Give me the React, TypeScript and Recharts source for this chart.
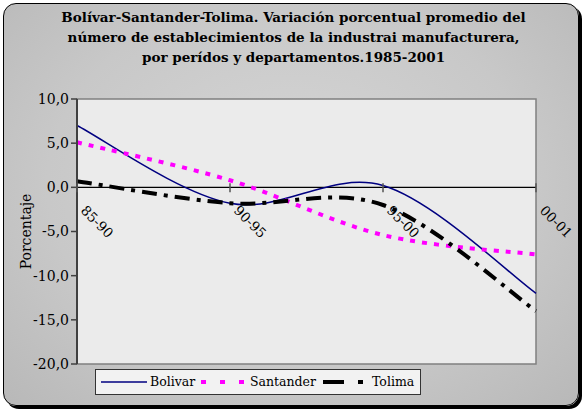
import { LineChart, Line, XAxis, YAxis, ReferenceLine, ReferenceArea, ReferenceDot } from 'recharts'

// Variación porcentual promedio por periodos y departamentos
const periodos = ['85-90', '90-95', '95-00', '00-01']
const bolivar = [7.0, -1.8, 0.2, -12.0]
const santander = [5.1, 0.8, -5.4, -7.6]
const tolima = [0.7, -1.8, -2.0, -14.0]
const yTicks = [-20, -15, -10, -5, 0, 5, 10]

const data = periodos.map((p, i) => ({
  p,
  Bolivar: bolivar[i],
  Santander: santander[i],
  Tolima: tolima[i],
}))

const serif = '"DejaVu Serif", serif'

const series = [
  { key: 'Bolivar', color: '#000080', width: 1.5, dash: undefined as string | undefined, legDash: undefined as string | undefined, lx: 5, tx: 54 },
  { key: 'Santander', color: '#FF00FF', width: 4, dash: '5 7', legDash: '5 14', lx: 105, tx: 154 },
  { key: 'Tolima', color: '#000000', width: 4, dash: '15 7 4 7', legDash: '21 14 5 14', lx: 227, tx: 276 },
]

// suavizado tipo Excel (Bezier con tangentes Catmull-Rom)
function smoothCurve(context: any) {
  let pts: [number, number][] = []
  return {
    areaStart() {},
    areaEnd() {},
    lineStart() { pts = [] },
    point(x: number, y: number) { pts.push([+x, +y]) },
    lineEnd() {
      if (!pts.length) return
      context.moveTo(pts[0][0], pts[0][1])
      for (let i = 0; i < pts.length - 1; i++) {
        const p0 = pts[i - 1] ?? pts[i]
        const p1 = pts[i]
        const p2 = pts[i + 1]
        const p3 = pts[i + 2] ?? pts[i + 1]
        context.bezierCurveTo(
          p1[0] + (p2[0] - p0[0]) / 6, p1[1] + (p2[1] - p0[1]) / 6,
          p2[0] - (p3[0] - p1[0]) / 6, p2[1] - (p3[1] - p1[1]) / 6,
          p2[0], p2[1],
        )
      }
    },
  }
}

function PeriodTick(props: any) {
  const { cx, cy, label } = props
  return (
    <g>
      <line x1={cx} x2={cx} y1={cy - 4} y2={cy + 5} stroke="#555" strokeWidth={1.5} />
      <text x={cx + 3} y={cy + 24} fontFamily={serif} fontSize={13.5} fill="#000"
        transform={`rotate(45 ${cx + 3} ${cy + 24})`} textAnchor="start">{label}</text>
    </g>
  )
}

function LegendBox() {
  return (
    <div style={{
      position: 'absolute', left: 95, top: 369, background: '#f2f2f2',
      border: '1px solid #333', height: 26, width: 326, boxSizing: 'border-box',
      fontFamily: serif, fontSize: 12.5,
    }}>
      {series.map((s) => (
        <div key={s.key}>
          <svg width={46} height={10} style={{ position: 'absolute', left: s.lx, top: 7 }}>
            <line x1={0} x2={46} y1={5} y2={5} stroke={s.color} strokeWidth={s.key === 'Bolivar' ? 1.5 : 4}
              strokeDasharray={s.legDash} />
          </svg>
          <span style={{ position: 'absolute', left: s.tx, top: 4, whiteSpace: 'nowrap' }}>{s.key}</span>
        </div>
      ))}
    </div>
  )
}

export default function App() {
  return (
    <div style={{ position: 'absolute', left: 0, top: 0, width: 587, height: 415 }}>
      <div style={{
        position: 'absolute', left: 3, top: 3, width: 574, height: 401, border: '1px solid #000',
        borderRadius: 13, boxShadow: '3px 3px 0 #000',
        background: 'radial-gradient(ellipse at 50% 45%, #d6d6d6 0%, #c8c8c8 60%, #b8b8b8 100%)',
      }} />
      <div style={{
        position: 'absolute', left: 0, top: 7, width: 587, textAlign: 'center', fontFamily: serif,
        fontWeight: 'bold', fontSize: 13.5, lineHeight: '20px', color: '#000',
      }}>
        Bolívar-Santander-Tolima. Variación porcentual promedio del<br />
        número de establecimientos de la industrai manufacturera,<br />
        por perídos y departamentos.1985-2001
      </div>
      <div style={{ position: 'absolute', left: 0, top: 0 }}>
        <LineChart width={587} height={415} data={data} margin={{ top: 99, right: 51, bottom: 51, left: 17 }}>
          <XAxis dataKey="p" hide />
          <YAxis domain={[-20, 10]} ticks={yTicks} width={60} interval={0}
            axisLine={{ stroke: '#404040', strokeWidth: 2 }} tickLine={{ stroke: '#404040', strokeWidth: 1.5 }}
            tickSize={6} tick={{ fontFamily: serif, fontSize: 14, fill: '#000' }}
            tickFormatter={(v: number) => v.toFixed(1).replace('.', ',')}
            label={{ value: 'Porcentaje', angle: -90, position: 'insideLeft', offset: 9,
              style: { fontFamily: serif, fontSize: 14, fill: '#000', textAnchor: 'middle' } }} />
          <ReferenceArea y1={-20} y2={10} fill="#ebebeb" fillOpacity={1} stroke="#808080" strokeWidth={1.5} ifOverflow="visible" />
          <ReferenceLine y={0} stroke="#000" strokeWidth={1.2} />
          {periodos.map((p) => (
            <ReferenceDot key={p} x={p} y={0} r={0} ifOverflow="visible"
              shape={(props: any) => <PeriodTick {...props} label={p} />} />
          ))}
          {series.map((s) => (
            <Line key={s.key} type={smoothCurve as any} dataKey={s.key} stroke={s.color} strokeWidth={s.width}
              strokeDasharray={s.dash} dot={false} activeDot={false} isAnimationActive={false} />
          ))}
        </LineChart>
      </div>
      <LegendBox />
    </div>
  )
}
